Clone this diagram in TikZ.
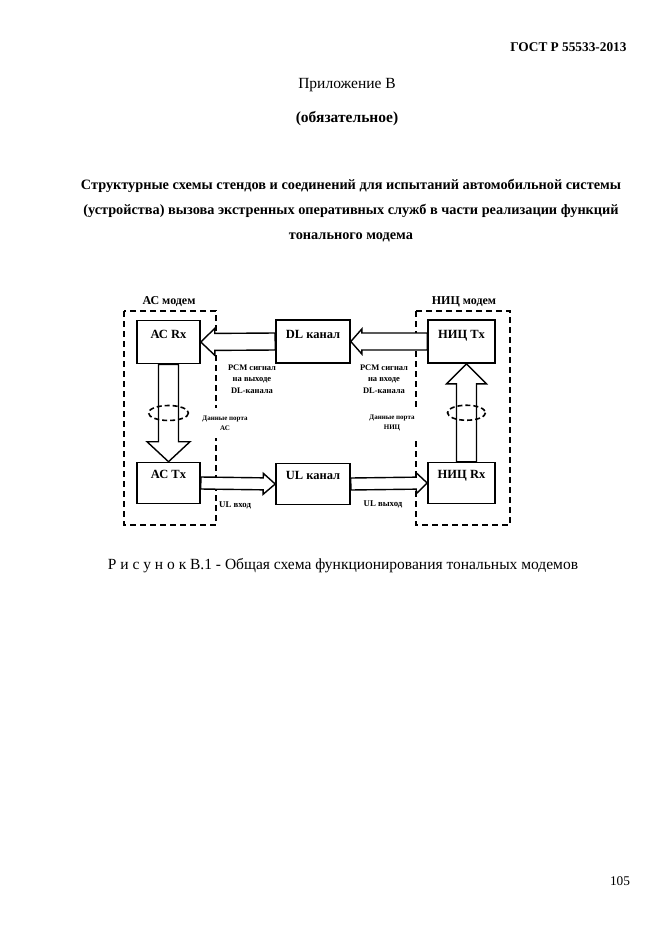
\documentclass[tikz,border=0pt]{standalone}
\usepackage{fontspec}
\setmainfont{Liberation Serif}
\usepackage{tikz}
\usetikzlibrary{calc, positioning}

% hollow block arrow: from, to, shaft half width, head half width, head length
\newcommand{\fatarrow}[5]{%
  \path (#1) coordinate (fa-s) (#2) coordinate (fa-e);
  \path ($(fa-e)!#5!(fa-s)$) coordinate (fa-b);
  \draw[fat] ($(fa-s)!#3!90:(fa-e)$) -- ($(fa-b)!#3!-90:(fa-s)$)
    -- ($(fa-b)!#4!-90:(fa-s)$) -- (fa-e) -- ($(fa-b)!#4!90:(fa-s)$)
    -- ($(fa-b)!#3!90:(fa-s)$) -- ($(fa-s)!#3!-90:(fa-e)$) -- cycle;}

\begin{document}
\begin{tikzpicture}[x=1pt, y=-1pt,
    box/.style={draw, line width=1.6pt, inner xsep=0pt, inner ysep=0pt,
                font=\fontsize{12.5}{14}\selectfont\bfseries},
    topbox/.style={box, text height=18pt, text depth=25pt},
    lowbox/.style={box, text height=16pt, text depth=25pt},
    modem/.style={draw, line width=1.8pt, dash pattern=on 6pt off 4pt},
    fat/.style={draw, fill=white, line width=1.4pt, line join=miter},
    note/.style={font=\fontsize{8.5}{11.5}\selectfont\bfseries, align=center, inner sep=1pt},
    port/.style={note, font=\fontsize{7}{10}\selectfont\bfseries, fill=white, inner ysep=8pt}]
  \path[fill=white, use as bounding box] (0,0) rectangle (662,935);

  % page head
  \node[font=\fontsize{13.3}{15}\selectfont\bfseries, anchor=base east] (gost) at (630,51) {ГОСТ Р 55533-2013};
  \node[font=\fontsize{15.5}{18}\selectfont] (annex) at (347,85) {Приложение В};
  \node[font=\fontsize{15.5}{18}\selectfont\bfseries] (oblig) at (347,119) {(обязательное)};
  \node[font=\fontsize{14.3}{25}\selectfont\bfseries, align=center] (heading) at (351,211)
    {Структурные схемы стендов и соединений для испытаний автомобильной системы\\
     (устройства) вызова экстренных оперативных служб в части реализации функций\\
     тонального модема};

  % modems
  \draw[modem] (124,311) rectangle (216,525);
  \draw[modem] (416,311) rectangle (510,525);
  \node[font=\fontsize{12}{14}\selectfont\bfseries] (acmod) at (169,302) {АС модем};
  \node[font=\fontsize{12}{14}\selectfont\bfseries] (nicmod) at (464,302) {НИЦ модем};

  % blocks
  \node[topbox, minimum width=63pt] (acrx) at (168.5,342) {АС Rx};
  \node[topbox, minimum width=74pt] (dl) at (313,341.5) {DL канал};
  \node[topbox, minimum width=67pt] (nitx) at (461.5,341.5) {НИЦ Tx};
  \node[lowbox, minimum width=63pt] (actx) at (168.5,483) {АС Tx};
  \node[lowbox, minimum width=74pt] (ul) at (313,484) {UL канал};
  \node[lowbox, minimum width=67pt] (nirx) at (461.5,483) {НИЦ Rx};

  % block arrows
  \fatarrow{nitx.west}{dl.east}{8.5pt}{12.5pt}{11pt}
  \fatarrow{dl.west}{acrx.east}{8.5pt}{13.5pt}{14pt}
  \fatarrow{acrx.south}{actx.north}{10pt}{21.5pt}{20pt}
  \fatarrow{$(nirx.north)+(5,0)$}{$(nitx.south)+(5,0)$}{10pt}{20pt}{20pt}
  \fatarrow{actx.east}{ul.west}{6pt}{10.5pt}{12pt}
  \fatarrow{ul.east}{nirx.west}{6pt}{10.5pt}{11pt}

  % data ports
  \draw[line width=1.6pt, dash pattern=on 5pt off 3pt] ($(acrx.south)!0.5!(actx.north)$) ellipse (20 and 7.5);
  \draw[line width=1.6pt, dash pattern=on 5pt off 3pt] ($(nitx.south)!0.5!(nirx.north)+(5,0)$) ellipse (19 and 7.5);

  % labels
  \node[note] (pcmout) at (252,379) {PCM сигнал\\на выходе\\DL-канала};
  \node[note] (pcmin) at (384,379) {PCM сигнал\\на входе\\DL-канала};
  \node[port, inner xsep=2pt] (acport) at (225,423) {Данные порта\\АС};
  \node[port, inner xsep=5pt] (nicport) at (392,423) {Данные порта\\НИЦ};
  \node[note, font=\fontsize{8.8}{11}\selectfont\bfseries, anchor=west] (ulin) at (218,505) {UL вход};
  \node[note, font=\fontsize{8.8}{11}\selectfont\bfseries] (ulout) at (383,504) {UL выход};

  % caption and page number
  \node[font=\fontsize{15.5}{18}\selectfont] (caption) at (343,566)
    {Р и с у н о к В.1 - Общая схема функционирования тональных модемов};
  \node[font=\fontsize{13.3}{15}\selectfont] (page) at (620,881) {105};
\end{tikzpicture}
\end{document}
